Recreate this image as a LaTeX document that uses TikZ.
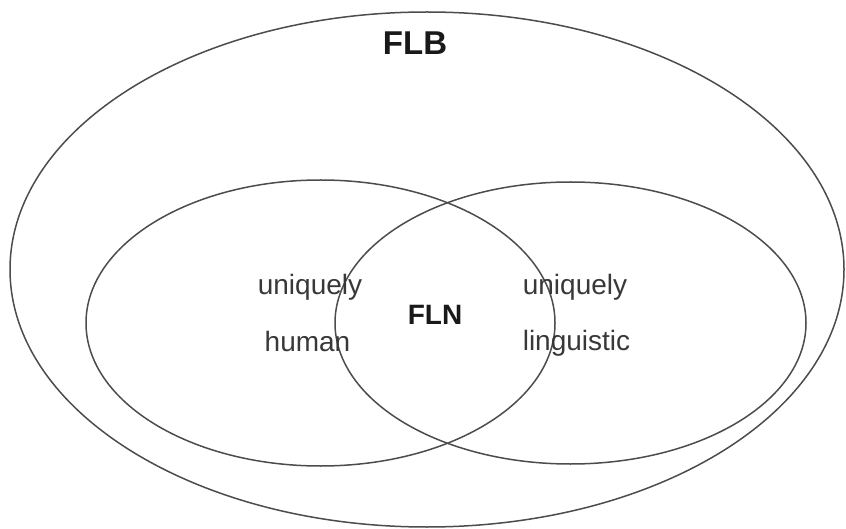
\documentclass[tikz,border=0pt]{standalone}
\usepackage{fontspec}
\setmainfont{Liberation Sans}
\begin{document}
\begin{tikzpicture}[x=1pt,y=-1pt,
  ring/.style={draw=black!70,line width=1.5pt},
  label/.style={anchor=base,inner sep=0pt,text=black!78,font=\fontsize{28}{28}\selectfont},
  title/.style={anchor=base,inner sep=0pt,text=black!90,font=\fontsize{33}{33}\selectfont\bfseries}]
\useasboundingbox (0,0) rectangle (846,529);
\draw[ring] (427,269.5) ellipse [x radius=417, y radius=257.5];
\draw[ring] (320.5,323) ellipse [x radius=234.5, y radius=143];
\draw[ring] (570.5,323) ellipse [x radius=235.5, y radius=141];
\node[title] (flb) at (415,55) {FLB};
\node[title,font=\fontsize{28}{28}\selectfont\bfseries] (fln) at (435,325) {FLN};
\node[label] (uh1) at (310,295) {uniquely};
\node[label] (uh2) at (307.5,352) {human};
\node[label] (ul1) at (575,295) {uniquely};
\node[label] (ul2) at (576.5,350) {linguistic};
\end{tikzpicture}
\end{document}
